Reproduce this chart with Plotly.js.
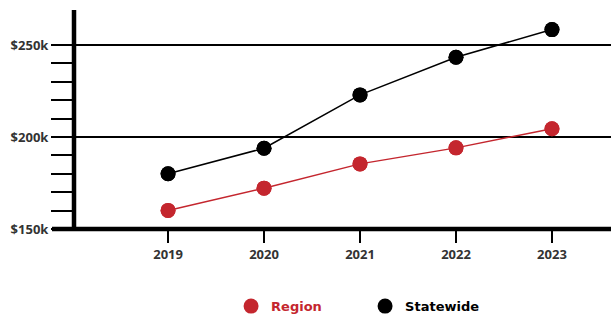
<!DOCTYPE html>
<html>
<head>
<meta charset="utf-8">
<script src="https://cdn.plot.ly/plotly-3.0.1.min.js"></script>
<style>html,body{margin:0;padding:0;background:#fff;}#chart{width:611px;height:316px;}</style>
</head>
<body>
<div id="chart"></div>
<script>
var years = ['2019', '2020', '2021', '2022', '2023'];
var regionValues = [160100, 172200, 185400, 194100, 204500];
var statewideValues = [180000, 193900, 222900, 243400, 258400];
var yTickVals = [150000, 200000, 250000];
var yTickText = ['$150k', '$200k', '$250k'];
var yMinorTickVals = [160000, 170000, 180000, 190000, 210000, 220000, 230000, 240000];

var RED = '#c4262e';
var BLACK = '#000000';
var FONT = 'Open Sans, sans-serif';
var LEGEND_FONT = 'DejaVu Sans, sans-serif';

var traces = [
  {x: years, y: regionValues, type: 'scatter', mode: 'lines+markers',
   line: {color: RED, width: 1.5}, marker: {color: RED, size: 15}, showlegend: false, hoverinfo: 'skip'},
  {x: years, y: statewideValues, type: 'scatter', mode: 'lines+markers',
   line: {color: BLACK, width: 1.5}, marker: {color: BLACK, size: 15}, showlegend: false, hoverinfo: 'skip'},
  {x: years, y: regionValues, type: 'scatter', mode: 'markers', name: '<span style="color:' + RED + '">Region</span>',
   marker: {color: RED, size: 15}, showlegend: true},
  {x: years, y: statewideValues, type: 'scatter', mode: 'markers', name: 'Statewide',
   marker: {color: BLACK, size: 15}, showlegend: true}
];

var layout = {
  width: 611, height: 316,
  margin: {l: 74, r: 0, t: 11, b: 87, autoexpand: false},
  paper_bgcolor: '#fff', plot_bgcolor: '#fff',
  font: {family: FONT, color: '#333', size: 13},
  xaxis: {
    type: 'category', range: [-0.98, 4.615], automargin: false,
    showgrid: false, zeroline: false, showline: false,
    ticks: 'outside', ticklen: 13, tickwidth: 2, tickcolor: BLACK,
    tickfont: {family: FONT, size: 13, color: '#333', weight: 700},
    fixedrange: true
  },
  yaxis: {
    range: [150000, 268500], automargin: false,
    tickvals: yTickVals, ticktext: yTickText,
    showgrid: true, gridcolor: BLACK, gridwidth: 1.5,
    zeroline: false, showline: false,
    ticks: 'outside', ticklen: 22, tickwidth: 2, tickcolor: BLACK,
    minor: {tickvals: yMinorTickVals, ticks: 'outside', ticklen: 22, tickwidth: 2, tickcolor: BLACK, showgrid: false},
    tickfont: {family: FONT, size: 13, color: '#333', weight: 700},
    fixedrange: true
  },
  shapes: [
    {type: 'line', xref: 'paper', yref: 'paper', x0: -0.041, x1: 1, y0: 0, y1: 0, line: {color: BLACK, width: 4.5}},
    {type: 'line', xref: 'paper', yref: 'paper', x0: 0, x1: 0, y0: 0, y1: 1.005, line: {color: BLACK, width: 4.5}}
  ],
  legend: {
    orientation: 'h', x: 0.2925, xanchor: 'left', y: -0.285, yanchor: 'top',
    font: {family: LEGEND_FONT, size: 13, color: BLACK, weight: 700},
    entrywidth: 89, itemsizing: 'trace'
  },
  showlegend: true
};

Plotly.newPlot('chart', traces, layout, {displayModeBar: false, staticPlot: true});
</script>
</body>
</html>
